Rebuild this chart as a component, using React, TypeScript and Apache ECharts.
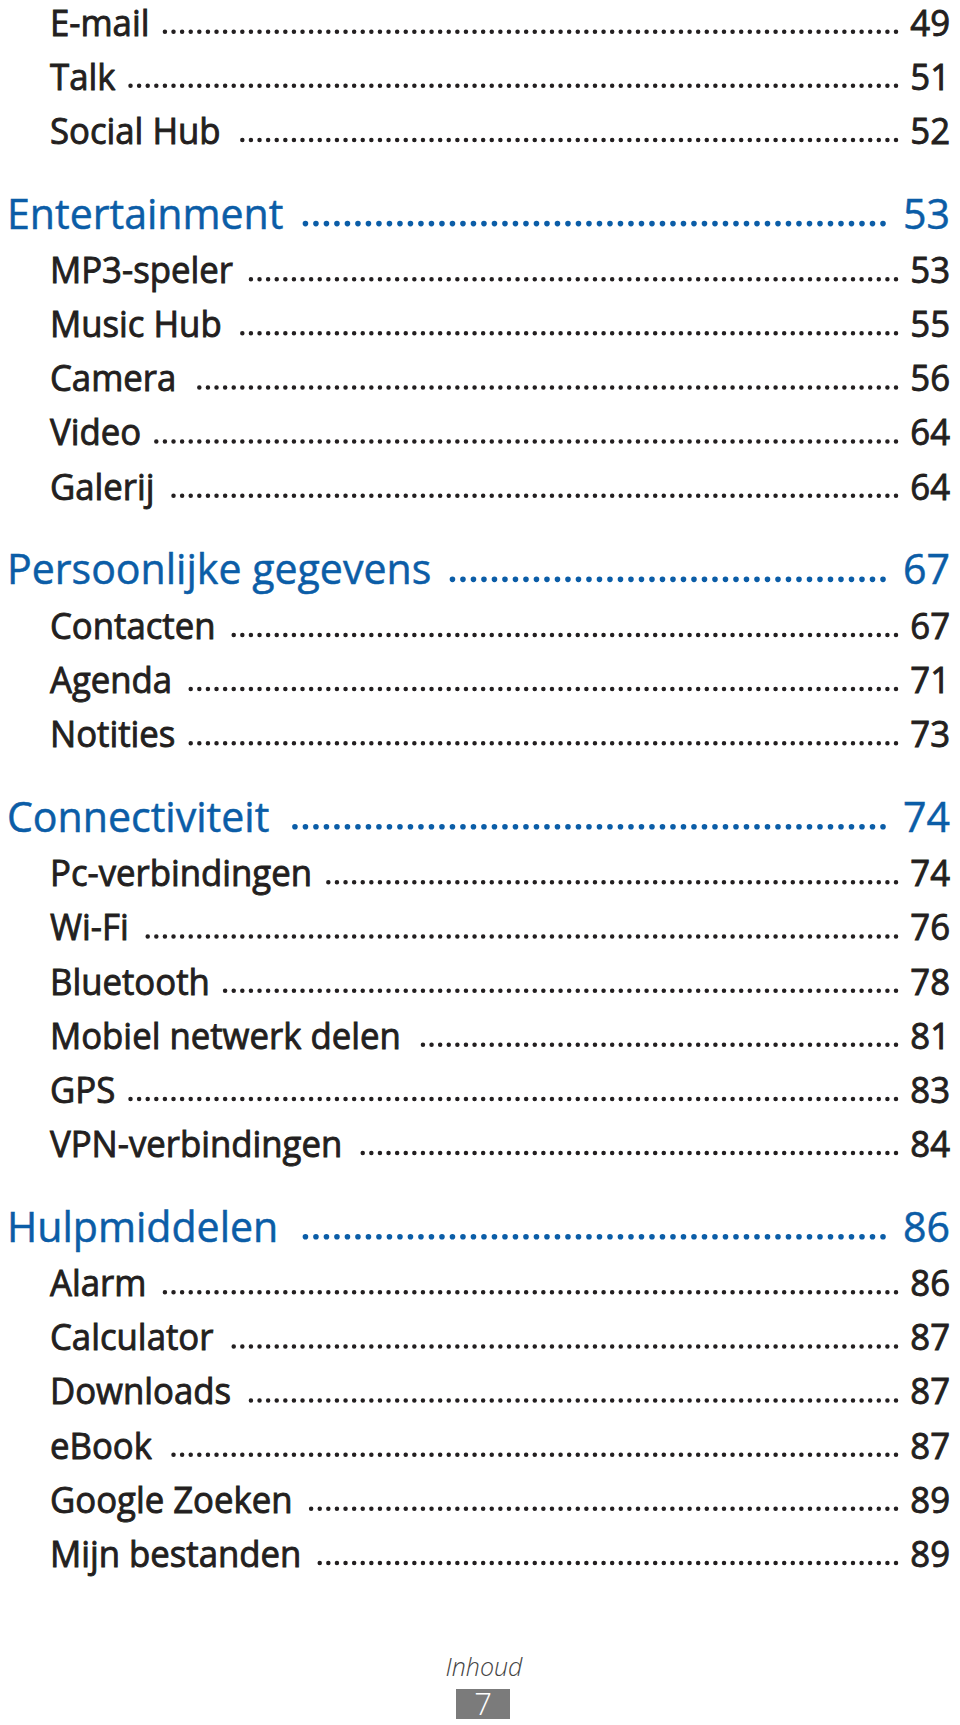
import React, { useEffect, useRef } from "react";
import * as echarts from "echarts";

// Table of contents entries
const titles = [
  "E-mail", "Talk", "Social Hub",
  "Entertainment", "MP3-speler", "Music Hub", "Camera", "Video", "Galerij",
  "Persoonlijke gegevens", "Contacten", "Agenda", "Notities",
  "Connectiviteit", "Pc-verbindingen", "Wi-Fi", "Bluetooth", "Mobiel netwerk delen", "GPS", "VPN-verbindingen",
  "Hulpmiddelen", "Alarm", "Calculator", "Downloads", "eBook", "Google Zoeken", "Mijn bestanden",
];
const pages = [
  49, 51, 52,
  53, 53, 55, 56, 64, 64,
  67, 67, 71, 73,
  74, 74, 76, 78, 81, 83, 84,
  86, 86, 87, 87, 87, 89, 89,
];
// 1 = chapter heading (blue), 2 = section entry
const levels = [
  2, 2, 2,
  1, 2, 2, 2, 2, 2,
  1, 2, 2, 2,
  1, 2, 2, 2, 2, 2, 2,
  1, 2, 2, 2, 2, 2, 2,
];
const footerLabel = "Inhoud";
const pageNumber = "7";

const BLUE = "#0b5da7";
const DARK = "#231f20";
const FONT = '"Open Sans", "Noto Sans", sans-serif';

export default function App() {
  const ref = useRef<HTMLDivElement>(null);
  useEffect(() => {
    document.body.style.margin = "0";
    if (!ref.current) return;
    const chart = echarts.init(ref.current, null, { renderer: "svg" });
    const canvas = document.createElement("canvas");
    const ctx = canvas.getContext("2d")!;

    const elements: any[] = [];
    let baseline = 34.3;
    titles.forEach((t, i) => {
      const lvl = levels[i];
      if (i > 0) baseline += lvl === 1 ? 85 : 54.15;
      const isHead = lvl === 1;
      const fs = isHead ? 41.5 : 36;
      const sx = isHead ? 0.99 : 0.965;
      const color = isHead ? BLUE : DARK;
      const x = isHead ? 7 : 50;
      const yc = baseline - 0.36 * fs;
      const font = `400 ${fs}px ${FONT}`;
      ctx.font = font;
      const w = ctx.measureText(t).width * sx;
      const textStyle = {
        font,
        fill: color,
        stroke: color,
        lineWidth: isHead ? 0.5 : 0.9,
        lineHeight: fs,
        verticalAlign: "middle",
      };
      elements.push({
        type: "text",
        x,
        y: yc,
        scaleX: sx,
        style: { ...textStyle, text: t, align: "left" },
      });
      elements.push({
        type: "text",
        x: 950,
        y: yc,
        scaleX: sx,
        style: { ...textStyle, text: String(pages[i]), align: "right" },
      });
      const dotEnd = isHead ? 883 : 896;
      const gap = isHead ? 17 : 15;
      const step = isHead ? 10.5 : 8.6;
      const dotY = baseline - (isHead ? 4 : 2.6);
      elements.push({
        type: "line",
        shape: { x1: dotEnd, y1: dotY, x2: x + w + gap, y2: dotY },
        style: {
          stroke: color,
          lineWidth: isHead ? 5.6 : 4.5,
          lineCap: "round",
          lineDash: [0.001, step],
        },
      });
    });

    elements.push({
      type: "text",
      x: 484,
      y: 1675 - 0.36 * 25,
      style: {
        text: footerLabel,
        font: `italic 300 25px ${FONT}`,
        fill: "#444",
        align: "center",
        verticalAlign: "middle",
      },
    });
    elements.push({
      type: "rect",
      shape: { x: 456, y: 1689, width: 54, height: 30 },
      style: { fill: "#7b7b7b" },
    });
    elements.push({
      type: "text",
      x: 483,
      y: 1714 - 0.36 * 31,
      style: {
        text: pageNumber,
        font: `300 31px ${FONT}`,
        fill: "#ffffff",
        align: "center",
        verticalAlign: "middle",
      },
    });

    chart.setOption({
      animation: false,
      backgroundColor: "#ffffff",
      graphic: { elements },
    });
    return () => chart.dispose();
  }, []);
  return <div ref={ref} style={{ width: 960, height: 1725 }} />;
}
